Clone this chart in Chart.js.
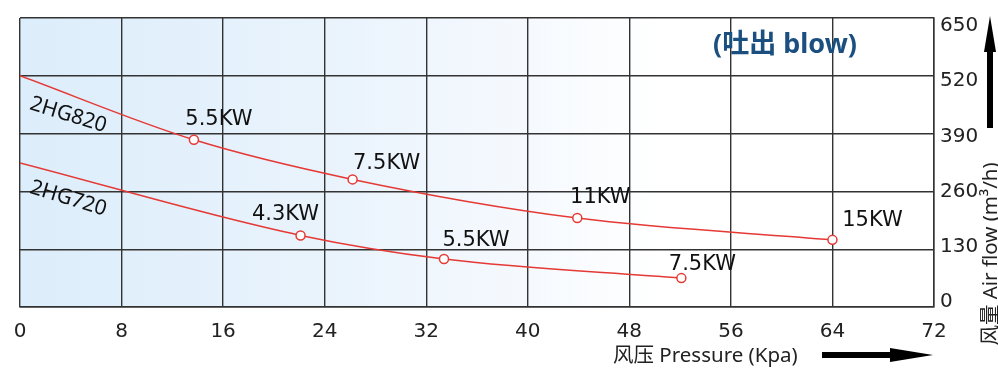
<!DOCTYPE html>
<html>
<head>
<meta charset="utf-8">
<script src="https://cdn.jsdelivr.net/npm/chart.js@4"></script>
<style>
  html, body { margin: 0; padding: 0; background: #fff; }
  #wrap { width: 998px; height: 368px; }
</style>
</head>
<body>
<div id="wrap"><canvas id="chart" width="998" height="368"></canvas></div>
<script>
// 2HG820 curve (pressure Kpa -> air flow m3/h)
const pressure820 = [0, 13.7, 26.2, 43.9, 64.0];
const flow820 = [520, 376, 287, 200, 151];
const power820 = ['', '5.5KW', '7.5KW', '11KW', '15KW'];

// 2HG720 curve
const pressure720 = [0, 22.1, 33.4, 52.1];
const flow720 = [324, 161, 108, 65];
const power720 = ['', '4.3KW', '5.5KW', '7.5KW'];

const modelNames = ['2HG820', '2HG720'];
const xTicks = [0, 8, 16, 24, 32, 40, 48, 56, 64, 72];
const yTicks = [0, 130, 260, 390, 520, 650];

const titleText = '(吐出 blow)';
const xTitle = '风压 Pressure (Kpa)';
const yTitle = '风量 Air flow (m³/h)';

const FONT = '"Noto Sans", "Noto Sans CJK SC", sans-serif';
const NUMFONT = '"DejaVu Sans", "Noto Sans", sans-serif';
const red = '#e53935';
const gridColor = '#333';

// text offsets (px) of the power labels relative to their points
const labelOffsets = [
    [null, [25, -20], [34, -16], [23, -21], [40, -19]],
    [null, [-15, -21], [32, -18], [21, -14]]
];
// model labels anchored on data coordinates
const modelLabelPos = [[3.8, 432], [3.8, 244]];

const toPoints = (xs, ys) => xs.map((x, i) => ({ x: x, y: ys[i] }));

const bgPlugin = {
    id: 'bg',
    beforeDraw(chart) {
        const { ctx, chartArea: a } = chart;
        const g = ctx.createLinearGradient(a.left, 0, a.right, 0);
        g.addColorStop(0, '#dcedfb');
        g.addColorStop(0.33, '#e9f3fc');
        g.addColorStop(0.55, '#f5f9fe');
        g.addColorStop(0.7, '#ffffff');
        g.addColorStop(1, '#ffffff');
        ctx.save();
        ctx.fillStyle = g;
        ctx.fillRect(a.left, a.top, a.right - a.left, a.bottom - a.top);
        ctx.restore();
    }
};

const textPlugin = {
    id: 'texts',
    afterDatasetsDraw(chart) {
        const { ctx, scales } = chart;
        const xs = scales.x, ys = scales.y;
        ctx.save();

        // power labels
        ctx.font = '21px ' + NUMFONT;
        ctx.fillStyle = '#111';
        ctx.textAlign = 'center';
        ctx.textBaseline = 'middle';
        [power820, power720].forEach((labels, d) => {
            const meta = chart.getDatasetMeta(d);
            labels.forEach((txt, i) => {
                if (!txt) return;
                const p = meta.data[i];
                const off = labelOffsets[d][i];
                ctx.fillText(txt, p.x + off[0], p.y + off[1]);
            });
        });

        // model names, rotated along the curves
        ctx.font = '21px ' + FONT;
        modelNames.forEach((name, i) => {
            const px = xs.getPixelForValue(modelLabelPos[i][0]);
            const py = ys.getPixelForValue(modelLabelPos[i][1]);
            ctx.save();
            ctx.translate(px, py);
            ctx.rotate(17 * Math.PI / 180);
            ctx.fillText(name, 0, 0);
            ctx.restore();
        });

        // title
        ctx.font = 'bold 27px ' + FONT;
        ctx.fillStyle = '#1b4f80';
        ctx.fillText(titleText, 785, 45);

        // x axis title + arrow
        ctx.font = '20.5px ' + FONT;
        ctx.fillStyle = '#222';
        ctx.textAlign = 'left';
        ctx.fillText(xTitle, 613, 356);
        ctx.fillStyle = '#000';
        ctx.fillRect(822, 352, 72, 6);
        ctx.beginPath();
        ctx.moveTo(890, 348);
        ctx.lineTo(933, 355);
        ctx.lineTo(890, 362);
        ctx.closePath();
        ctx.fill();

        // y axis title + arrow
        ctx.save();
        ctx.translate(991, 254);
        ctx.rotate(-Math.PI / 2);
        ctx.textAlign = 'center';
        ctx.fillStyle = '#222';
        ctx.fillText(yTitle, 0, 0);
        ctx.restore();
        ctx.fillStyle = '#000';
        ctx.fillRect(987, 48, 6, 80);
        ctx.beginPath();
        ctx.moveTo(984, 52);
        ctx.lineTo(990, 16);
        ctx.lineTo(996, 52);
        ctx.closePath();
        ctx.fill();

        ctx.restore();
    }
};

const lineStyle = {
    borderColor: red,
    borderWidth: 1.5,
    pointBackgroundColor: '#fff',
    pointBorderColor: red,
    pointBorderWidth: 1.5,
    cubicInterpolationMode: 'monotone',
    fill: false
};

new Chart(document.getElementById('chart').getContext('2d'), {
    type: 'line',
    data: {
        datasets: [
            Object.assign({
                label: modelNames[0],
                data: toPoints(pressure820, flow820),
                pointRadius: power820.map(t => t ? 4.5 : 0)
            }, lineStyle),
            Object.assign({
                label: modelNames[1],
                data: toPoints(pressure720, flow720),
                pointRadius: power720.map(t => t ? 4.5 : 0)
            }, lineStyle)
        ]
    },
    options: {
        responsive: false,
        animation: false,
        devicePixelRatio: 1,
        layout: { padding: { left: 20, top: 14, right: 0, bottom: 0 } },
        plugins: {
            legend: { display: false },
            tooltip: { enabled: false }
        },
        scales: {
            x: {
                type: 'linear',
                min: 0,
                max: 72,
                afterBuildTicks: (s) => { s.ticks = xTicks.map(v => ({ value: v })); },
                afterFit: (s) => { s.height = 61; },
                ticks: {
                    color: '#222',
                    font: { family: NUMFONT, size: 20 },
                    padding: 13,
                    maxRotation: 0
                },
                grid: { color: gridColor, lineWidth: 1.4, drawTicks: false },
                border: { color: gridColor, width: 1.5 }
            },
            y: {
                position: 'right',
                min: 0,
                max: 650,
                afterBuildTicks: (s) => { s.ticks = yTicks.map(v => ({ value: v })); },
                afterFit: (s) => { s.width = 0; },
                ticks: { display: false },
                grid: { color: gridColor, lineWidth: 1.4, drawTicks: false },
                border: { color: gridColor, width: 1.5 }
            },
            // label axis: the printed tick labels sit slightly inside the grid
            yLabels: {
                position: 'right',
                min: -11.6,
                max: 668.6,
                afterBuildTicks: (s) => { s.ticks = yTicks.map(v => ({ value: v })); },
                afterFit: (s) => { s.width = 64; },
                ticks: {
                    color: '#222',
                    font: { family: NUMFONT, size: 20 },
                    padding: 6
                },
                grid: { display: false, drawTicks: false },
                border: { display: false }
            }
        }
    },
    plugins: [bgPlugin, textPlugin]
});
</script>
</body>
</html>
